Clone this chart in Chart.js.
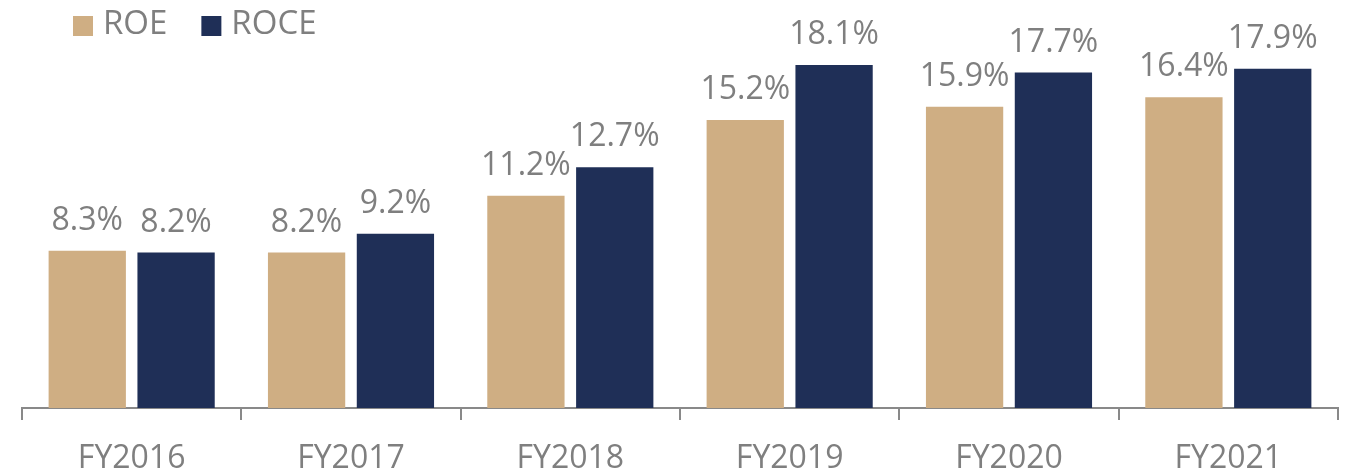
<!DOCTYPE html>
<html>
<head>
<meta charset="utf-8">
<script src="https://cdn.jsdelivr.net/npm/chart.js@4"></script>
<style>
  html, body { margin: 0; padding: 0; background: #fff; }
  #wrap { width: 1358px; height: 468px; }
</style>
</head>
<body>
<div id="wrap"><canvas id="barChart"></canvas></div>
<script>
const categories = ['FY2016', 'FY2017', 'FY2018', 'FY2019', 'FY2020', 'FY2021'];
const seriesNames = ['ROE', 'ROCE'];
const roe = [8.3, 8.2, 11.2, 15.2, 15.9, 16.4];
const roce = [8.2, 9.2, 12.7, 18.1, 17.7, 17.9];

const roeColor = '#cfae83';
const roceColor = '#1f2f57';
const textColor = '#7f7f7f';
const fontFamily = '"Open Sans", sans-serif';

// value labels above each bar
const valueLabels = {
    id: 'valueLabels',
    afterDatasetsDraw(chart) {
        const ctx = chart.ctx;
        ctx.save();
        ctx.font = '32px ' + fontFamily;
        ctx.fillStyle = textColor;
        ctx.textAlign = 'center';
        ctx.textBaseline = 'bottom';
        chart.data.datasets.forEach((ds, i) => {
            chart.getDatasetMeta(i).data.forEach((bar, j) => {
                ctx.fillText(ds.data[j].toFixed(1) + '%', bar.x, bar.y - 14);
            });
        });
        ctx.restore();
    }
};

// legend drawn in the top-left corner, not taking layout space
const topLegend = {
    id: 'topLegend',
    afterDraw(chart) {
        const ctx = chart.ctx;
        ctx.save();
        ctx.font = '33px ' + fontFamily;
        ctx.textBaseline = 'middle';
        ctx.textAlign = 'left';
        let x = 73;
        chart.data.datasets.forEach((ds) => {
            ctx.fillStyle = ds.backgroundColor;
            ctx.fillRect(x, 16, 20, 20);
            ctx.fillStyle = textColor;
            ctx.fillText(ds.label, x + 30, 25);
            x += 30 + ctx.measureText(ds.label).width + 34;
        });
        ctx.restore();
    }
};

const ctx = document.getElementById('barChart').getContext('2d');

new Chart(ctx, {
    type: 'bar',
    data: {
        labels: categories,
        datasets: [{
            label: seriesNames[0],
            data: roe,
            backgroundColor: roeColor,
        }, {
            label: seriesNames[1],
            data: roce,
            backgroundColor: roceColor,
        }]
    },
    options: {
        responsive: true,
        maintainAspectRatio: false,
        animation: false,
        categoryPercentage: 0.81,
        barPercentage: 0.87,
        layout: { padding: { left: 22, right: 20, top: 29, bottom: 0 } },
        plugins: {
            legend: { display: false },
            tooltip: { enabled: false }
        },
        scales: {
            x: {
                afterFit(scale) { scale.height = 60; },
                grid: {
                    offset: true,
                    drawOnChartArea: false,
                    tickLength: 12,
                    color: '#898989',
                    lineWidth: 2
                },
                border: { color: '#898989', width: 2 },
                ticks: {
                    color: textColor,
                    padding: 20,
                    font: { family: fontFamily, size: 32 }
                }
            },
            y: {
                display: false,
                min: 0,
                max: 20
            }
        }
    },
    plugins: [valueLabels, topLegend]
});
</script>
</body>
</html>
